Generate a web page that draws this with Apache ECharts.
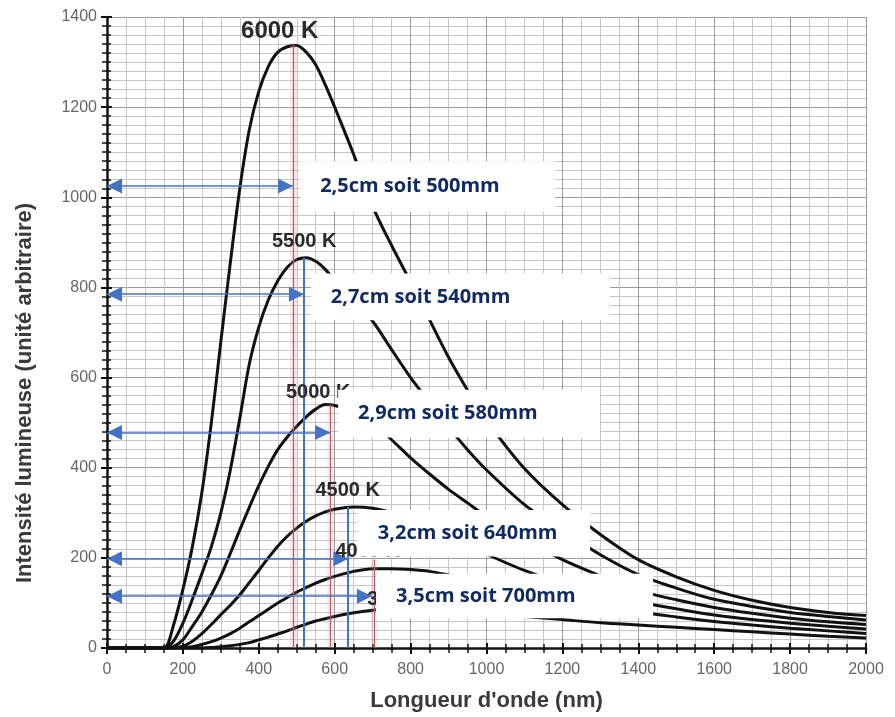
<!DOCTYPE html>
<html>
<head>
<meta charset="utf-8">
<script src="https://cdn.jsdelivr.net/npm/echarts@6/dist/echarts.min.js"></script>
<style>
html,body{margin:0;padding:0;background:#fff;}
#chart{width:895px;height:717px;}
</style>
</head>
<body>
<div id="chart"></div>
<script>
// ---------- data ----------
const wavelengths = [0,100,150,175,200,225,250,275,300,325,350,375,400,425,450,475,500,525,550,575,600,650,700,750,800,850,900,950,1000,1100,1200,1300,1400,1500,1600,1700,1800,1900,2000];
const T6000 = [0,0,0,50,130,225,345,500,680,855,1020,1150,1235,1290,1322,1334,1337,1322,1294,1250,1200,1095,980,893,812,728,645,572,505,398,318,252,196,158,128,106,90,79,72];
const T5500 = [0,0,0,15,55,108,165,225,300,395,510,630,712,772,815,845,862,866,858,840,815,770,725,662,600,545,490,440,395,318,260,207,163,133,108,92,79,70,62];
const T5000 = [0,0,0,3,18,48,80,118,160,210,262,312,360,403,440,468,492,513,530,540,538,524,500,462,422,386,352,322,292,240,196,160,128,107,90,77,66,58,52];
const T4500 = [0,0,0,0,4,15,32,52,74,95,118,145,172,200,226,248,266,281,293,302,308,313,310,300,285,267,248,228,208,172,142,118,102,87,73,63,55,48,42];
const T4000 = [0,0,0,0,1,3,8,14,22,32,44,58,72,86,100,112,124,134,144,152,159,170,176,176,174,170,162,153,144,126,110,94,80,69,59,51,44,38,32];
const T3500 = [0,0,0,0,0,0,0,1,3,5,8,12,18,24,31,38,46,53,60,65,70,78,84,87,88,87,85,82,78,70,63,56,51,46,41,36,31,26,22];
const curveNames = ['6000 K','5500 K','5000 K','4500 K','4000 K','3500 K'];
const curveValues = [T6000,T5500,T5000,T4500,T4000,T3500];

// annotation values (wavelength in nm, intensity)
const arrowLevels = [1025, 785, 478, 198, 115];
const arrowEnds = [490, 519, 588, 636, 698];
const redLineX = [490, 587, 703];
const redLineTop = [1338, 540, 196];
const blueLineX = [519, 635];
const blueLineTop = [866, 313];
const boxTexts = ['2,5cm soit 500mm','2,7cm soit 540mm','2,9cm soit 580mm','3,2cm soit 640mm','3,5cm soit 700mm'];
const xTicks = [0,200,400,600,800,1000,1200,1400,1600,1800,2000];
const yTicks = [0,200,400,600,800,1000,1200,1400];

// ---------- layout / style ----------
const boxExtent = [ // [nmLeft, valTop, nmRight, valBottom]
  [509,1080,1180,968],
  [537,831,1325,727],
  [609,573,1299,467],
  [661,306,1273,203],
  [709,165,1439,66]
];
const labelStyle = [
  {size:24, off:[-17,-14]},
  {size:20, off:[-2,-16]},
  {size:20, off:[-7,-12]},
  {size:20, off:[-6,-16]},
  {size:20, off:[-5,-17]},
  {size:20, off:[-11,-9]}
];

const chart = echarts.init(document.getElementById('chart'), null, {renderer:'canvas'});

const curveSeries = curveNames.map((name, i) => ({
  name: name,
  type: 'line',
  data: wavelengths.map((w, j) => [w, curveValues[i][j]]),
  smooth: 0.3,
  showSymbol: false,
  symbol: 'none',
  lineStyle: {color:'#111', width:3},
  z: 3,
  silent: true,
  markPoint: {
    symbol: 'circle', symbolSize: 1,
    itemStyle: {color:'rgba(0,0,0,0)'},
    silent: true,
    data: [{type:'max'}],
    label: {
      show: true, position: 'inside', offset: labelStyle[i].off,
      formatter: name,
      color: '#2a2a2a', fontWeight: 'bold',
      fontFamily: 'Liberation Sans, Arial, sans-serif',
      fontSize: labelStyle[i].size
    }
  }
}));

const redLineData = [];
redLineX.forEach((x, i) => {
  redLineData.push([{coord:[x,0], lineStyle:{color:'rgba(245,150,160,0.2)', width:7, type:'solid'}}, {coord:[x, redLineTop[i]]}]);
  redLineData.push([{coord:[x,0], lineStyle:{color:'#a86068', width:1.2, type:'solid'}}, {coord:[x, redLineTop[i]]}]);
});
const blueLineData = blueLineX.map((x, i) => [{coord:[x,0]}, {coord:[x, blueLineTop[i]]}]);
const arrowData = arrowLevels.map((y, i) => [{coord:[0,y]}, {coord:[arrowEnds[i], y]}]);

const helper = (name, extra) => Object.assign({
  name: name, type:'line', data:[[0,0]], symbol:'none', showSymbol:false,
  lineStyle:{opacity:0}, silent:true
}, extra);

const font = 'Liberation Sans, Arial, sans-serif';
const option = {
  animation: false,
  backgroundColor: '#fff',
  grid: {left:107, right:29, top:17, bottom:65, containLabel:false},
  xAxis: [{
    type:'value', position:'bottom', min:0, max:2000, interval:200,
    name:"Longueur d'onde (nm)", nameLocation:'middle', nameGap:42,
    nameTextStyle:{fontFamily:font, fontWeight:'bold', fontSize:22, color:'#3a3a3a'},
    axisLine:{show:true, lineStyle:{color:'#111', width:2.5}},
    axisTick:{show:true, length:6, lineStyle:{color:'#111', width:2}},
    minorTick:{show:true, splitNumber:4, length:5, lineStyle:{color:'#111', width:1.5}},
    axisLabel:{margin:14, fontSize:16, color:'#666', fontFamily:font,
      formatter: v => xTicks.includes(v) ? String(v) : ''},
    splitLine:{show:true, lineStyle:{color:'#9a9a9a', width:1}},
    minorSplitLine:{show:true, lineStyle:{color:'#c6c6c6', width:1}}
  },{
    type:'value', position:'bottom', min:0, max:2000, interval:200,
    axisLine:{show:false}, axisLabel:{show:false}, splitLine:{show:false},
    axisTick:{show:true, inside:true, length:5, lineStyle:{color:'#111', width:2}},
    minorTick:{show:true, splitNumber:4, length:4, lineStyle:{color:'#111', width:1.5}}
  }],
  yAxis: [{
    type:'value', position:'left', min:0, max:1400, interval:200,
    axisLine:{show:true, lineStyle:{color:'#111', width:2.5}},
    axisTick:{show:true, length:6, lineStyle:{color:'#111', width:2}},
    minorTick:{show:true, splitNumber:10, length:5, lineStyle:{color:'#111', width:1.5}},
    axisLabel:{margin:10, fontSize:16, color:'#666', fontFamily:font,
      formatter: v => yTicks.includes(v) ? String(v) : ''},
    splitLine:{show:true, lineStyle:{color:'#9a9a9a', width:1}},
    minorSplitLine:{show:true, lineStyle:{color:'#c6c6c6', width:1}}
  },{
    type:'value', position:'left', min:0, max:1400, interval:200,
    axisLine:{show:false}, axisLabel:{show:false}, splitLine:{show:false},
    axisTick:{show:true, inside:true, length:5, lineStyle:{color:'#111', width:2}},
    minorTick:{show:true, splitNumber:10, length:4, lineStyle:{color:'#111', width:1.5}}
  }],
  graphic: [{
    type:'text', x:25, y:393, rotation:Math.PI/2,
    style:{text:'Intensité lumineuse (unité arbitraire)', align:'center', verticalAlign:'middle',
      font:'bold 22px "Liberation Sans", Arial, sans-serif', fill:'#3a3a3a'}
  }],
  series: [
    helper('redLines', {z:2, markLine:{silent:true, symbol:['none','none'], label:{show:false},
      lineStyle:{type:'solid'}, data:redLineData}}),
    ...curveSeries,
    helper('blueLines', {z:4, markLine:{silent:true, symbol:['none','none'], label:{show:false},
      lineStyle:{color:'#4472c4', width:2, type:'solid'}, data:blueLineData}}),
    helper('arrows', {z:6, markLine:{silent:true, symbol:['triangle','triangle'], symbolSize:[15,15],
      symbolOffset:[[0,'50%'],[0,'50%']],
      label:{show:false}, lineStyle:{color:'#4472c4', width:1.5, type:'solid'},
      itemStyle:{color:'#4472c4'}, data:arrowData}}),
    {
      name:'boxes', type:'custom', z:10, silent:true,
      data: boxExtent,
      encode:{x:[0,2], y:[1,3]},
      renderItem: (params, api) => {
        const p0 = api.coord([api.value(0), api.value(1)]);
        const p1 = api.coord([api.value(2), api.value(3)]);
        return {type:'group', children:[
          {type:'rect', shape:{x:p0[0], y:p0[1], width:p1[0]-p0[0], height:p1[1]-p0[1]}, style:{fill:'#ffffff'}},
          {type:'text', style:{text:boxTexts[params.dataIndex], x:p0[0]+20, y:(p0[1]+p1[1])/2,
            verticalAlign:'middle', align:'left', fill:'#112a62',
            font:'bold 20px "Open Sans", "Noto Sans", sans-serif'}}
        ]};
      }
    }
  ]
};
chart.setOption(option);
</script>
</body>
</html>
